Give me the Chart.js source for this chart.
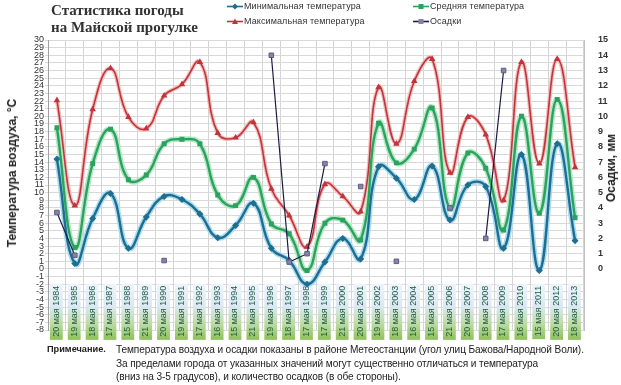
<!DOCTYPE html>
<html>
<head>
<meta charset="utf-8">
<script src="https://cdn.jsdelivr.net/npm/chart.js@4.4.1/dist/chart.umd.min.js"></script>
<style>
  body { margin: 0; background: #fff; }
  #wrap { position: relative; width: 621px; height: 385px; overflow: hidden; font-family: "Liberation Sans", Arial, sans-serif; }
  canvas { position: absolute; left: 0; top: 0; }
  .title { position: absolute; left: 51px; top: 2px; font: bold 15px "Liberation Serif", "Times New Roman", serif; color: #333; line-height: 17px; }
  .leg { position: absolute; font-size: 9px; color: #333; white-space: nowrap; letter-spacing: 0.1px; }
  .leg canvas { position: static; vertical-align: middle; margin-right: 1px; }
  .ytitle { position: absolute; font-weight: bold; font-size: 12px; color: #222; white-space: nowrap; transform: translate(-50%, -50%) rotate(-90deg); }
  .note { position: absolute; left: 47px; top: 343px; font-size: 10.1px; color: #222; line-height: 13.5px; letter-spacing: -0.1px; }
  .note b { position: absolute; left: 0; top: 0; font-size: 9.2px; letter-spacing: 0; }
  .note div { margin-left: 69px; }
</style>
</head>
<body>
<div id="wrap">
  <canvas id="myChart" width="621" height="385"></canvas>
  <div class="title">Статистика погоды<br>на Майской прогулке</div>
  <div id="legend"></div>
  <div class="ytitle" style="left:12px; top:173px;">Температура воздуха, °С</div>
  <div class="ytitle" style="left:611px; top:168px;">Осадки, мм</div>
  <div class="note"><b>Примечание.</b><div>Температура воздуха и осадки показаны в районе Метеостанции (угол улиц Бажова/Народной Воли).<br>За пределами города от указанных значений могут существенно отличаться и температура<br>(вниз на 3-5 градусов), и количество осадков (в обе стороны).</div></div>
</div>
<script>
// dates of the walks
const dates = ['20 мая 1984','19 мая 1985','18 мая 1986','17 мая 1987','15 мая 1988','21 мая 1989','20 мая 1990','19 мая 1991','17 мая 1992','16 мая 1993',
  '15 мая 1994','21 мая 1995','19 мая 1996','18 мая 1997','17 мая 1998','17 мая 1999','21 мая 2000','20 мая 2001','19 мая 2002','18 мая 2003',
  '16 мая 2004','15 мая 2005','21 мая 2006','20 мая 2007','18 мая 2008','17 мая 2009','16 мая 2010','15 мая 2011','20 мая 2012','18 мая 2013'];

const tMin = [14.4, 0.7, 6.6, 9.9, 2.7, 6.8, 9.5, 9.1, 7.2, 4.1, 5.7, 8.6, 2.7, 1.1, -2.0, 0.9, 4.0, 1.3, 13.4, 11.9, 9.1, 13.5, 6.4, 11.0, 10.8, 2.7, 15.0, -0.2, 16.4, 3.7];
const tAvg = [18.5, 2.8, 13.8, 18.3, 11.7, 12.3, 16.4, 17.0, 16.4, 9.7, 8.3, 12.0, 5.9, 4.6, -0.2, 6.0, 6.4, 3.8, 19.1, 13.9, 15.7, 21.1, 7.9, 15.2, 13.2, 5.1, 20.0, 7.3, 22.2, 6.7];
const tMax = [22.1, 8.3, 20.9, 26.3, 19.9, 18.4, 22.7, 24.2, 27.1, 17.8, 17.2, 19.2, 10.5, 7.0, 2.9, 11.1, 9.5, 7.5, 23.8, 16.4, 24.6, 27.5, 12.6, 19.9, 17.6, 9.0, 27.1, 13.8, 27.5, 13.3];
// precipitation, mm (null = no data)
const rain = [3.7, 0.9, null, null, null, null, 0.55, null, null, null, null, null, 14, 0.45, 1.0, 6.9, null, 5.4, null, 0.5, null, null, 4.0, null, 2.0, 13.0, null, null, null, null];

const series = [
  { name: 'Минимальная температура', color: '#1f6d91', halo: '#a9dcef', point: 'rectRot', data: tMin },
  { name: 'Средняя температура', color: '#2aa35e', halo: '#b7e6c6', point: 'rect', data: tAvg },
  { name: 'Максимальная температура', color: '#c0353b', halo: '#f3bcbc', point: 'triangle', data: tMax },
];

let ctx = document.getElementById('myChart').getContext('2d');

// label background: green at the bottom, pale blue on top (local rotated coords)
const labelBg = ctx.createLinearGradient(-54, 0, 2, 0);
labelBg.addColorStop(0, '#8cc15a');
labelBg.addColorStop(0.3, '#bfdca6');
labelBg.addColorStop(0.6, '#dbe8f3');
labelBg.addColorStop(1, '#eef4fa');

let datasets = [];
series.forEach((s, i) => {
  datasets.push({
    data: s.data, label: s.name, yAxisID: 'y',
    borderColor: s.color, borderWidth: i == 2 ? 1.6 : 2.4,
    pointStyle: s.point, pointRadius: i == 2 ? 2.2 : 1.8,
    pointBackgroundColor: s.color, pointBorderColor: s.color,
    tension: 0.45, order: 3 - i
  });
  // soft halo under each temperature line
  datasets.push({
    data: s.data, label: '', yAxisID: 'y',
    borderColor: s.halo, borderWidth: i == 2 ? 4 : 5.5,
    pointRadius: 0, tension: 0.45, order: 10
  });
});
datasets.push({
  data: rain, label: 'Осадки', yAxisID: 'y2',
  borderColor: '#1b1d45', borderWidth: 1.2, tension: 0, spanGaps: false,
  pointStyle: 'rect', pointRadius: 3.2,
  pointBackgroundColor: '#8584a6', pointBorderColor: '#5d5c84', pointBorderWidth: 1,
  order: 0
});

let myChart = new Chart(ctx, {
  type: 'line',
  data: { labels: dates, datasets: datasets },
  options: {
    responsive: false,
    animation: false,
    layout: { padding: { top: 40, bottom: 55, left: 0, right: 0 } },
    plugins: { legend: { display: false }, tooltip: { enabled: false } },
    scales: {
      x: {
        position: { y: -2.2 },
        offset: true,
        grid: { offset: true, color: '#d4d4d4', drawTicks: false },
        border: { display: false },
        ticks: {
          autoSkip: false, minRotation: 90, maxRotation: 90, padding: 0,
          font: { size: 9, family: 'Liberation Sans' }, color: '#1f5a45',
          showLabelBackdrop: true, backdropColor: labelBg,
          backdropPadding: { left: 3, right: 2, top: 1, bottom: 1 },
          labelOffset: -6
        }
      },
      y: {
        position: 'left', min: -8, max: 30,
        afterFit: (s) => { s.width = 48; },
        grid: { color: '#d9d9d9', tickLength: 3 },
        border: { color: '#a0a0a0' },
        ticks: { stepSize: 1, autoSkip: false, padding: 1, color: '#333', font: { size: 9, family: 'Liberation Sans' } }
      },
      y2: {
        position: 'right', min: -4, max: 15,
        afterFit: (s) => { s.width = 37; },
        grid: { display: false },
        border: { color: '#c0c0c0' },
        ticks: {
          stepSize: 1, autoSkip: false, padding: 6, color: '#333',
          font: { size: 9, weight: 'bold', family: 'Liberation Sans' },
          callback: (v) => v < 0 ? '' : v
        }
      }
    }
  }
});

// legend, laid out like the original (two columns)
const legendItems = [
  { s: series[0], x: 227, y: 1 }, { s: series[1], x: 413, y: 1 },
  { s: series[2], x: 227, y: 16 }, { s: { name: 'Осадки', color: '#1b1d45', point: 'rect', fill: '#8584a6' }, x: 413, y: 16 }
];
let legend = document.getElementById('legend');
legendItems.forEach(it => {
  let d = document.createElement('div');
  d.className = 'leg';
  d.style.left = it.x + 'px';
  d.style.top = it.y + 'px';
  let c = document.createElement('canvas');
  c.width = 16; c.height = 9;
  let g = c.getContext('2d');
  g.strokeStyle = it.s.color; g.lineWidth = 1.6;
  g.beginPath(); g.moveTo(0, 4.5); g.lineTo(16, 4.5); g.stroke();
  g.fillStyle = it.s.fill || it.s.color;
  if (it.s.point == 'rect') g.fillRect(5.5, 2, 5, 5);
  else if (it.s.point == 'triangle') { g.beginPath(); g.moveTo(8, 1.5); g.lineTo(11, 7); g.lineTo(5, 7); g.fill(); }
  else { g.beginPath(); g.moveTo(8, 1.5); g.lineTo(11, 4.5); g.lineTo(8, 7.5); g.lineTo(5, 4.5); g.fill(); }
  d.appendChild(c);
  d.appendChild(document.createTextNode(it.s.name));
  legend.appendChild(d);
});
</script>
</body>
</html>
